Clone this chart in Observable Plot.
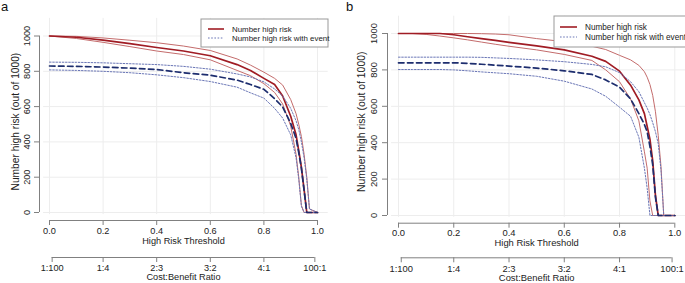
<!DOCTYPE html>
<html><head><meta charset="utf-8">
<script src="https://cdn.jsdelivr.net/npm/d3@7"></script>
<script src="https://cdn.jsdelivr.net/npm/@observablehq/plot@0.6"></script>
<style>
body{margin:0;background:#fff;}
#wrap{position:relative;width:685px;height:283px;overflow:hidden;font-family:"Liberation Sans",Arial,sans-serif;}
.panel{position:absolute;top:0;}
.tag{position:absolute;font-size:13px;color:#111;line-height:1;}
</style></head><body>
<div id="wrap">
  <div class="tag" style="left:1px;top:0px;">a</div>
  <div class="tag" style="left:346px;top:0px;">b</div>
</div>
<script>
// ---------- data ----------
const thresholdsA = [0, 0.1, 0.2, 0.3, 0.4, 0.5, 0.6, 0.7, 0.75, 0.8, 0.84, 0.87, 0.9, 0.92, 0.93, 0.94, 0.95, 0.96, 0.97, 1.0];
const highRiskA      = [1000, 993, 977, 957, 935, 915, 888, 838, 805, 760, 725, 660, 545, 440, 350, 255, 130, 0, 0, 0];
const highRiskUpperA = [1000, 998, 989, 976, 962, 943, 918, 870, 835, 795, 760, 722, 640, 560, 500, 430, 330, 200, 20, 0];
const highRiskLowerA = [1000, 986, 964, 940, 915, 895, 865, 805, 775, 730, 680, 615, 490, 330, 200, 40, 0, 0, 0, 0];
const eventA         = [830, 828, 824, 818, 810, 792, 778, 750, 725, 698, 645, 598, 505, 420, 340, 250, 125, 0, 0, 0];
const eventUpperA    = [852, 851, 848, 843, 838, 828, 812, 785, 768, 740, 700, 660, 590, 520, 470, 400, 310, 190, 20, 0];
const eventLowerA    = [808, 805, 800, 792, 780, 764, 742, 710, 678, 648, 590, 535, 440, 310, 190, 35, 0, 0, 0, 0];

const thresholdsB = [0, 0.05, 0.1, 0.15, 0.2, 0.25, 0.3, 0.35, 0.4, 0.5, 0.6, 0.7, 0.75, 0.8, 0.84, 0.87, 0.89, 0.9, 0.91, 0.92, 0.93, 0.94, 0.95, 0.96, 0.97, 1.0];
const highRiskB      = [1000, 1000, 1000, 1000, 993, 982, 972, 962, 951, 932, 910, 875, 847, 793, 716, 635, 560, 490, 420, 300, 110, 0, 0, 0, 0, 0];
const highRiskUpperB = [1000, 1000, 1000, 1000, 1000, 1000, 999, 997, 993, 972, 955, 930, 912, 880, 855, 825, 790, 760, 720, 660, 570, 440, 270, 0, 0, 0];
const highRiskLowerB = [1000, 1000, 995, 986, 976, 965, 953, 941, 930, 910, 885, 852, 800, 735, 640, 520, 350, 260, 80, 0, 0, 0, 0, 0, 0, 0];
const eventB         = [839, 839, 839, 839, 839, 836, 831, 826, 821, 810, 795, 775, 745, 705, 640, 560, 500, 460, 380, 280, 100, 0, 0, 0, 0, 0];
const eventUpperB    = [870, 870, 870, 870, 870, 870, 869, 866, 863, 855, 845, 830, 817, 785, 735, 680, 620, 590, 555, 510, 460, 395, 250, 0, 0, 0];
const eventLowerB    = [802, 802, 802, 802, 800, 795, 789, 784, 779, 765, 738, 695, 655, 595, 545, 430, 260, 150, 0, 0, 0, 0, 0, 0, 0, 0];

const xTicks = [0, 0.2, 0.4, 0.6, 0.8, 1.0];
const yTicks = [0, 200, 400, 600, 800, 1000];
const costLabels = ["1:100", "1:4", "2:3", "3:2", "4:1", "100:1"];
const legendLabels = ["Number high risk", "Number high risk with event"];
const xTitle = "High Risk Threshold";
const costTitle = "Cost:Benefit Ratio";
const yTitle = "Number high risk (out of 1000)";

// ---------- styles ----------
const redMain = "#a01c24", redCI = "#c46c6c", blueMain = "#1d2d6e", blueCI = "#6a76b6";
const axisCol = "#808080", textCol = "#222", gridCol = "#ededed";
const costPos = costLabels.map(s => { const [a, b] = s.split(":").map(Number); return a / (a + b); });

function panel(cfg) {
  const H = 283;
  const series = [
    {v: cfg.hrUpper, stroke: redCI, w: 1},
    {v: cfg.hrLower, stroke: redCI, w: 1},
    {v: cfg.hr, stroke: redMain, w: 1.7},
    {v: cfg.evUpper, stroke: blueCI, w: 1, dash: "1.6,1.6"},
    {v: cfg.evLower, stroke: blueCI, w: 1, dash: "1.6,1.6"},
    {v: cfg.ev, stroke: blueMain, w: 1.7, dash: "5.5,3.5"}
  ];
  const lineMarks = series.map(s =>
    Plot.line(cfg.t.map((t, i) => ({t, v: s.v[i]})),
      {x: "t", y: "v", stroke: s.stroke, strokeWidth: s.w, strokeDasharray: s.dash}));
  const fs = cfg.fs;
  const svg = Plot.plot({
    width: cfg.width, height: H,
    marginLeft: cfg.ml, marginRight: cfg.width - cfg.xRight,
    marginTop: cfg.mt, marginBottom: H - cfg.y0,
    x: {domain: [0, 1], axis: null},
    y: {domain: [0, 1000], axis: null},
    style: {fontFamily: "Liberation Sans, Arial, sans-serif", background: "transparent", overflow: "visible"},
    marks: [
      // grid
      Plot.ruleX(xTicks, {x: d => d, y1: () => cfg.gy[0], y2: () => cfg.gy[1], stroke: gridCol, strokeWidth: 1}),
      Plot.ruleY(yTicks, {y: d => d, x1: () => cfg.gx[0], x2: () => cfg.gx[1], stroke: gridCol, strokeWidth: 1}),
      ...lineMarks,
      // y axis
      Plot.ruleX([0], {x: d => d, y1: () => 0, y2: () => 1000, dx: cfg.yAxisDx, stroke: axisCol}),
      Plot.ruleY(yTicks, {y: d => d, x1: () => 0, x2: () => 0, insetLeft: -5, dx: cfg.yAxisDx, stroke: axisCol}),
      Plot.text(yTicks, {y: d => d, x: () => 0, text: d => String(d), dx: cfg.yLabelDx, rotate: -90,
        fontSize: fs.tick, fill: textCol, textAnchor: "middle", lineAnchor: "middle"}),
      Plot.text([yTitle], {y: () => 515, x: () => 0, text: d => d, dx: cfg.yTitleDx, rotate: -90,
        fontSize: fs.ytitle, fill: textCol, textAnchor: "middle", lineAnchor: "middle"}),
      // x axis
      Plot.ruleY([0], {y: d => d, x1: () => 0, x2: () => 1, dy: cfg.xAxisDy, stroke: axisCol}),
      Plot.ruleX(xTicks, {x: d => d, y1: () => 0, y2: () => 0, insetBottom: -5, dy: cfg.xAxisDy, stroke: axisCol}),
      Plot.text(xTicks, {x: d => d, y: () => 0, text: d => d.toFixed(1), dy: cfg.xLabelDy,
        fontSize: fs.tick, fill: textCol, lineAnchor: "middle"}),
      Plot.text([xTitle], {x: () => 0.5, y: () => 0, text: d => d, dy: cfg.xTitleDy,
        fontSize: fs.title, fill: textCol, lineAnchor: "middle"}),
      // cost:benefit axis
      Plot.ruleY([0], {y: d => d, x1: () => costPos[0], x2: () => costPos[costPos.length - 1], dy: cfg.costDy, stroke: axisCol}),
      Plot.ruleX(costPos, {x: d => d, y1: () => 0, y2: () => 0, insetBottom: -5, dy: cfg.costDy, stroke: axisCol}),
      Plot.text(costLabels, {x: (d, i) => costPos[i], y: () => 0, text: d => d, dy: cfg.costLabelDy,
        fontSize: fs.tick, fill: textCol, lineAnchor: "middle"}),
      Plot.text([costTitle], {x: () => 0.5, y: () => 0, text: d => d, dy: cfg.costTitleDy,
        fontSize: fs.title, fill: textCol, lineAnchor: "middle"})
    ]
  });
  // legend
  const L = cfg.legend;
  const g = d3.select(svg).append("g");
  g.append("rect").attr("x", L.box[0]).attr("y", L.box[1]).attr("width", L.box[2] - L.box[0]).attr("height", L.box[3] - L.box[1])
    .attr("fill", "#fff").attr("stroke", "#999").attr("stroke-width", 1);
  const keys = [{stroke: redMain, w: 1.6, dash: null}, {stroke: blueCI, w: 1, dash: "1.6,1.6"}];
  legendLabels.forEach((lab, i) => {
    g.append("line").attr("x1", L.line[0]).attr("x2", L.line[1]).attr("y1", L.rows[i]).attr("y2", L.rows[i])
      .attr("stroke", keys[i].stroke).attr("stroke-width", keys[i].w).attr("stroke-dasharray", keys[i].dash);
    g.append("text").attr("x", L.textX).attr("y", L.rows[i]).attr("dy", "0.35em").attr("font-size", L.fs)
      .attr("text-anchor", "start")
      .attr("fill", textCol).attr("font-family", "Liberation Sans, Arial, sans-serif").text(lab);
  });
  const div = document.createElement("div");
  div.className = "panel";
  div.style.left = cfg.left + "px";
  div.appendChild(svg);
  document.getElementById("wrap").appendChild(div);
}

panel({
  left: 0, width: 342, ml: 49, xRight: 317, mt: 35.5, y0: 212,
  t: thresholdsA, hr: highRiskA, hrUpper: highRiskUpperA, hrLower: highRiskLowerA,
  ev: eventA, evUpper: eventUpperA, evLower: eventLowerA,
  yAxisDx: -10, yLabelDx: -22, yTitleDx: -33.5,
  xAxisDy: 8, xLabelDy: 18.5, xTitleDy: 28.5, costDy: 45, costLabelDy: 55.5, costTitleDy: 65,
  gx: [-0.022, 1.04], gy: [-12, 1100],
  fs: {tick: 9.2, title: 9.2, ytitle: 10.2},
  legend: {box: [201, 19, 328, 47], line: [208, 224], rows: [29, 38], textX: 232, fs: 7.9}
});
panel({
  left: 342, width: 343, ml: 56, xRight: 332.3, mt: 33, y0: 215,
  t: thresholdsB, hr: highRiskB, hrUpper: highRiskUpperB, hrLower: highRiskLowerB,
  ev: eventB, evUpper: eventUpperB, evLower: eventLowerB,
  yAxisDx: -11, yLabelDx: -24.5, yTitleDx: -37,
  xAxisDy: 7.7, xLabelDy: 17, xTitleDy: 27, costDy: 42.3, costLabelDy: 53, costTitleDy: 62.5,
  gx: [-0.025, 1.2], gy: [-10, 1095],
  fs: {tick: 9.4, title: 9.4, ytitle: 10.4},
  legend: {box: [212, 16, 350, 47], line: [218, 235], rows: [27, 37], textX: 243, fs: 8.2}
});
</script>
</body></html>
